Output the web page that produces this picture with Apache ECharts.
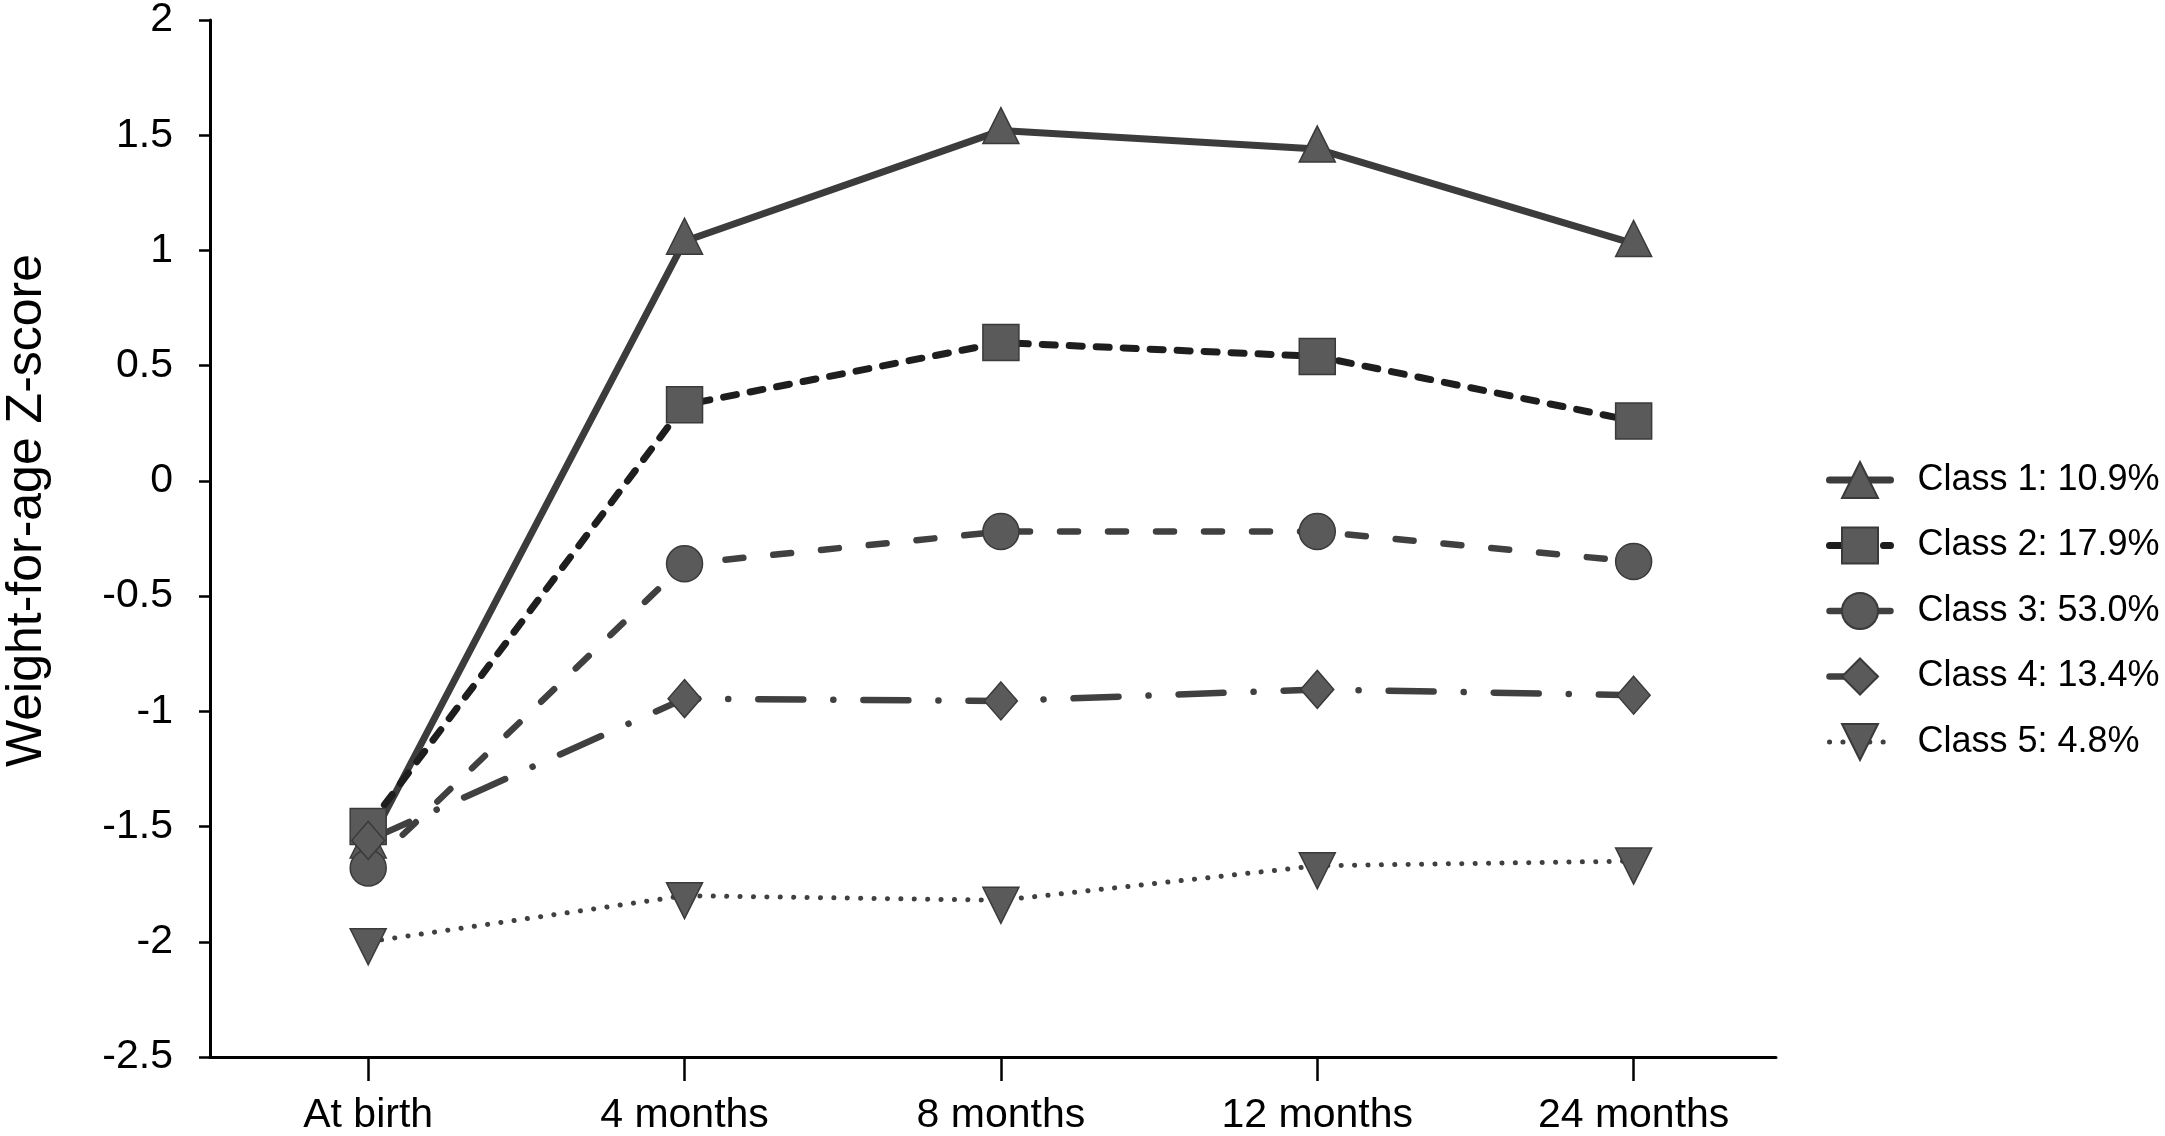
<!DOCTYPE html>
<html>
<head>
<meta charset="utf-8">
<script src="https://cdn.jsdelivr.net/npm/echarts@6/dist/echarts.min.js"></script>
<style>
    html, body { margin: 0; padding: 0; background: #fff; }
    #chart { width: 2165px; height: 1136px; }
</style>
</head>
<body>
<div id="chart"></div>
<script>
    // 数据
    var categories = ['At birth', '4 months', '8 months', '12 months', '24 months'];
    var classNames = ['Class 1: 10.9%', 'Class 2: 17.9%', 'Class 3: 53.0%', 'Class 4: 13.4%', 'Class 5: 4.8%'];
    var class1 = [-1.58, 1.04, 1.52, 1.44, 1.03];
    var class2 = [-1.50, 0.33, 0.60, 0.54, 0.26];
    var class3 = [-1.68, -0.36, -0.22, -0.22, -0.35];
    var class4 = [-1.56, -0.945, -0.955, -0.905, -0.93];
    var class5 = [-2.00, -1.80, -1.82, -1.67, -1.65];
    var yMin = -2.5, yMax = 2, yStep = 0.5;

    var font = 'Liberation Sans, Arial, Helvetica, sans-serif';
    var tickIdx = categories.map(function (c, i) { return i; });

    function pairs(arr) {
        return arr.map(function (v, i) { return [i, v]; });
    }

    function makeSeries(name, values, symbol, size, offset, rotate, lineColor, lineWidth, dash) {
        return {
            name: name,
            type: 'line',
            data: pairs(values),
            symbol: symbol,
            symbolSize: size,
            symbolOffset: offset,
            symbolRotate: rotate,
            showAllSymbol: true,
            lineStyle: { color: lineColor, width: lineWidth, type: dash, cap: 'round', join: 'round' },
            itemStyle: { color: '#5a5a5a', borderColor: '#3a3a3a', borderWidth: 1.5 },
            emphasis: { disabled: true }
        };
    }

    var option = {
        animation: false,
        backgroundColor: '#fff',
        textStyle: { fontFamily: font, color: '#000' },
        grid: { left: 210, right: 389, top: 20, bottom: 79, containLabel: false, outerBoundsMode: 'none' },
        legend: {
            orient: 'vertical',
            left: 1821,
            top: 456,
            itemWidth: 61,
            itemHeight: 45,
            itemGap: 27.5,
            align: 'left',
            data: classNames,
            lineStyle: { width: 'inherit' },
            textStyle: { fontSize: 36, color: '#000', fontFamily: font, padding: [0, 0, 0, 22] }
        },
        xAxis: {
            type: 'value',
            min: -0.5,
            max: 4.45,
            axisLine: { show: true, onZero: false, lineStyle: { color: '#000', width: 3 } },
            axisTick: { show: true, length: 24, customValues: tickIdx, lineStyle: { color: '#000', width: 2.5 } },
            axisLabel: {
                customValues: tickIdx,
                margin: 38,
                fontSize: 41,
                color: '#000',
                fontFamily: font,
                formatter: function (v) { return categories[Math.round(v)]; }
            },
            splitLine: { show: false }
        },
        yAxis: {
            type: 'value',
            min: yMin,
            max: yMax,
            interval: yStep,
            name: 'Weight-for-age Z-score',
            nameLocation: 'middle',
            nameRotate: 90,
            nameGap: 158,
            nameTextStyle: { fontSize: 50, color: '#000', fontFamily: font, padding: [0, 0, 0, 56] },
            axisLine: { show: true, onZero: false, lineStyle: { color: '#000', width: 3 } },
            axisTick: { show: true, length: 11, lineStyle: { color: '#000', width: 2.5 } },
            axisLabel: { margin: 37, fontSize: 41, color: '#000', fontFamily: font },
            splitLine: { show: false }
        },
        series: [
            makeSeries(classNames[0], class1, 'triangle', 36, [0, -5], 0, '#3c3c3c', 7, 'solid'),
            makeSeries(classNames[1], class2, 'rect', 36, [0, 0], 0, '#1e1e1e', 7, [13, 14]),
            makeSeries(classNames[2], class3, 'circle', 36, [0, 0], 0, '#404040', 6.5, [18, 30]),
            makeSeries(classNames[3], class4, 'diamond', [33, 38], [0, 0], 0, '#404040', 6.5, [45, 30, 0.1, 30]),
            makeSeries(classNames[4], class5, 'triangle', 36, [0, 5], 180, '#404040', 5, [0.1, 13.3])
        ]
    };

    var myChart = echarts.init(document.getElementById('chart'));
    myChart.setOption(option);
</script>
</body>
</html>
